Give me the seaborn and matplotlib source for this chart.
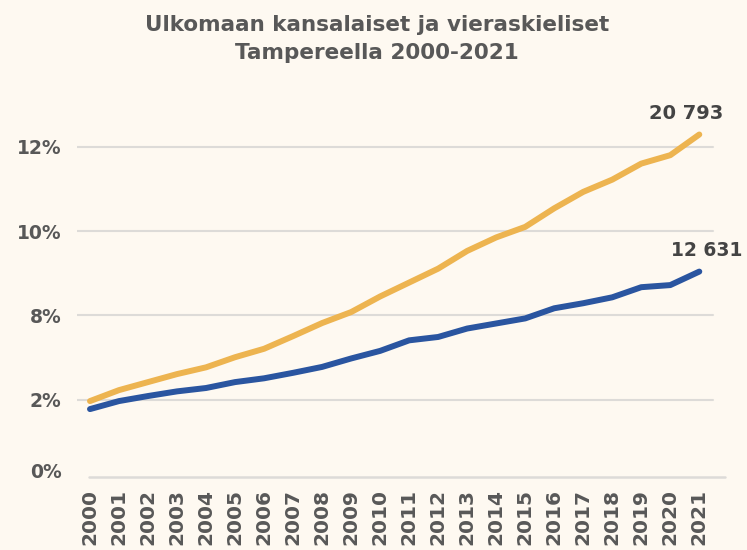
import matplotlib
matplotlib.use("Agg")
import matplotlib.pyplot as plt
import seaborn as sns
import pandas as pd

years = list(range(2000, 2022))
vieraskieliset = [5.97, 6.23, 6.42, 6.61, 6.77, 7.01, 7.21, 7.51, 7.82, 8.08, 8.45,
                  8.78, 9.11, 9.53, 9.85, 10.10, 10.54, 10.93, 11.22, 11.60, 11.80, 12.29]
kansalaiset = [5.78, 5.97, 6.09, 6.20, 6.28, 6.42, 6.51, 6.64, 6.78, 6.98, 7.16,
               7.41, 7.49, 7.69, 7.81, 7.93, 8.17, 8.29, 8.43, 8.67, 8.72, 9.04]
grid_values = [6, 8, 10, 12]
grid_labels = ["2%", "8%", "10%", "12%"]
zero_label = "0%"
end_labels = ["20 793", "12 631"]
title = "Ulkomaan kansalaiset ja vieraskieliset\nTampereella 2000-2021"

BG = "#FEF9F1"
YEL = "#EDB450"
BLUE = "#2A55A0"
TXT = "#585858"

sns.set_style("white", {"axes.facecolor": BG, "figure.facecolor": BG})
plt.rcParams["font.family"] = ["DejaVu Sans"]

df = pd.DataFrame({
    "x": list(range(len(years))) * 2,
    "value": vieraskieliset + kansalaiset,
    "series": ["vieraskieliset"] * len(years) + ["kansalaiset"] * len(years),
})

fig = plt.figure(figsize=(7.47, 5.5), dpi=100)
ax = fig.add_axes([77 / 747, 1 - 477 / 550, 648 / 747, 377 / 550])
ax.set_facecolor(BG)

ybot = 4.17
ytop = 13.108
ax.set_ylim(ybot, ytop)
ax.set_xlim(-0.448, 21.886)

for g in grid_values:
    ax.axhline(g, xmin=0, xmax=0.981, color="#DDDBD8", lw=1.5, zorder=1)
ax.axhline(ybot, xmin=0.0185, xmax=1, color="#DDDBD8", lw=1.8, zorder=1, clip_on=False)

sns.lineplot(data=df, x="x", y="value", hue="series",
             palette={"vieraskieliset": YEL, "kansalaiset": BLUE},
             linewidth=4.3, legend=False, ax=ax, zorder=3)
for line in ax.get_lines():
    line.set_solid_capstyle("round")
    line.set_solid_joinstyle("round")

for s in ax.spines.values():
    s.set_visible(False)

ax.set_yticks([4.33] + grid_values)
ax.set_yticklabels([zero_label] + grid_labels)
ax.tick_params(axis="y", length=0, pad=11, labelsize=13.5, labelcolor=TXT)
for t in ax.get_yticklabels():
    t.set_fontweight("bold")

ax.set_xticks(range(len(years)))
ax.set_xticklabels([str(y) for y in years], rotation=90)
ax.tick_params(axis="x", length=0, pad=49, labelsize=14.5, labelcolor=TXT)
for t in ax.get_xticklabels():
    t.set_verticalalignment("bottom")
    t.set_fontweight("bold")

ax.set_xlabel("")
ax.set_ylabel("")

last = len(years) - 1
ax.annotate(end_labels[0], xy=(last, vieraskieliset[-1]), xytext=(-13, 21),
            textcoords="offset pixels", ha="center", va="center",
            fontsize=14, fontweight="bold", color="#444444", annotation_clip=False)
ax.annotate(end_labels[1], xy=(last, kansalaiset[-1]), xytext=(7, 21.5),
            textcoords="offset pixels", ha="center", va="center",
            fontsize=13.5, fontweight="bold", color="#444444", annotation_clip=False)

fig.text(0.505, 1 - 39 / 550, title, ha="center", va="center", fontsize=15.5,
         fontweight="bold", color=TXT, linespacing=1.45)

fig.savefig("out.png", dpi=100, facecolor=BG)
